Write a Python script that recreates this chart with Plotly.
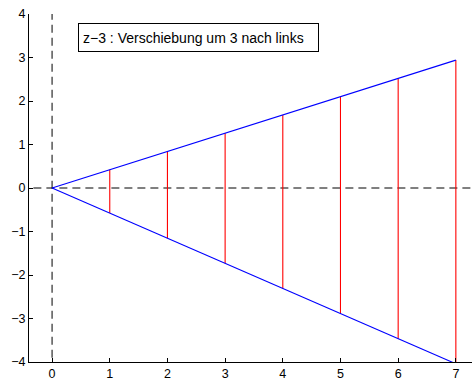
import plotly.graph_objects as go

# Sample positions and the two bounding lines of the wedge
x_vals = [0, 1, 2, 3, 4, 5, 6, 7]
upper_vals = [0.0, 0.42, 0.84, 1.26, 1.68, 2.10, 2.52, 2.94]
lower_vals = [0.0, -0.577, -1.155, -1.732, -2.309, -2.887, -3.464, -4.041]

x_ticks = [0, 1, 2, 3, 4, 5, 6, 7]
y_ticks = [-4, -3, -2, -1, 0, 1, 2, 3, 4]
label_text = "z\u22123 : Verschiebung um 3 nach links"

FONT = "Liberation Sans, Arial, sans-serif"

fig = go.Figure()

# dashed coordinate axes through the origin
fig.add_trace(go.Scatter(x=[0, 0], y=[-4.5, 4.5], mode="lines",
                         line=dict(color="#000000", width=1, dash="8px,5px"),
                         hoverinfo="skip", showlegend=False))
fig.add_trace(go.Scatter(x=[-1, 8], y=[0, 0], mode="lines",
                         line=dict(color="#000000", width=1, dash="8px,5px"),
                         hoverinfo="skip", showlegend=False))

# red vertical segments between the bounding lines
vx, vy = [], []
for xv, lo, up in zip(x_vals[1:], lower_vals[1:], upper_vals[1:]):
    vx += [xv, xv, None]
    vy += [lo, up, None]
fig.add_trace(go.Scatter(x=vx, y=vy, mode="lines",
                         line=dict(color="#ff0000", width=1.1),
                         showlegend=False))

# blue bounding lines
fig.add_trace(go.Scatter(x=x_vals, y=upper_vals, mode="lines",
                         line=dict(color="#0000ff", width=1.1), showlegend=False))
fig.add_trace(go.Scatter(x=x_vals, y=lower_vals, mode="lines",
                         line=dict(color="#0000ff", width=1.1), showlegend=False))

fig.add_annotation(
    x=0.45, y=3.79, xref="x", yref="y", xanchor="left", yanchor="top",
    text=label_text, showarrow=False, align="left",
    width=231, height=19, borderpad=4,
    bordercolor="#000000", borderwidth=1, bgcolor="#ffffff",
    font=dict(family=FONT, size=14, color="#000000"),
)

axis_common = dict(
    showgrid=False, zeroline=False, showline=True, linecolor="#000000",
    linewidth=1, ticks="inside", ticklen=4, tickcolor="#000000",
    tickfont=dict(family=FONT, size=12.5, color="#000000"),
    mirror=False,
)

fig.update_layout(
    width=472, height=387,
    margin=dict(l=29, r=0, t=14, b=25),
    paper_bgcolor="#ffffff", plot_bgcolor="#ffffff",
    xaxis=dict(range=[-0.4, 7.28], tickvals=x_ticks, **axis_common),
    yaxis=dict(range=[-4, 4], tickvals=y_ticks, **axis_common),
    showlegend=False,
)

fig.write_html("out.html")
